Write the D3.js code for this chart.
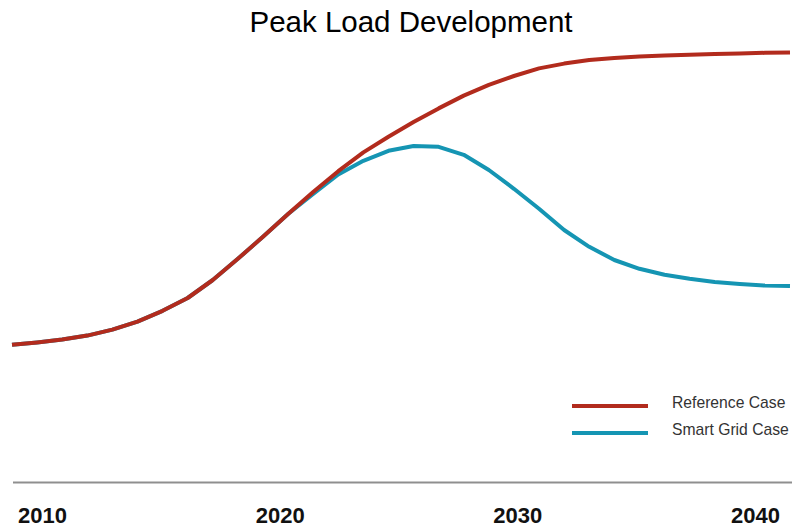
<!DOCTYPE html>
<html>
<head>
<meta charset="utf-8">
<script src="https://cdn.jsdelivr.net/npm/d3@7"></script>
<style>
    html, body { margin: 0; padding: 0; background: #fff; }
    text { font-family: "Liberation Sans", Arial, Helvetica, sans-serif; }
</style>
</head>
<body>
<div class="chart-container"></div>
<script>
// yearly points, values (index units)
var years = [2009, 2010, 2011, 2012, 2013, 2014, 2015, 2016, 2017, 2018, 2019,
    2020, 2021, 2022, 2023, 2024, 2025, 2026, 2027, 2028, 2029,
    2030, 2031, 2032, 2033, 2034, 2035, 2036, 2037, 2038, 2039, 2040];

var referenceCase = [34.3, 34.9, 35.6, 36.6, 38.1, 40.1, 42.8, 46.0, 50.5, 55.8, 61.3,
    67.0, 72.5, 77.7, 82.4, 86.3, 90.0, 93.4, 96.6, 99.3, 101.5,
    103.4, 104.6, 105.5, 106.0, 106.4, 106.6, 106.8, 107.0, 107.1, 107.3, 107.4];

var smartGridCase = [34.3, 34.9, 35.6, 36.6, 38.1, 40.1, 42.8, 46.0, 50.5, 55.8, 61.3,
    67.0, 72.0, 76.9, 80.3, 82.8, 84.0, 83.8, 81.8, 78.0, 73.3,
    68.3, 63.0, 58.8, 55.5, 53.3, 51.8, 50.8, 50.0, 49.5, 49.1, 49.0];

var axisYears = [2010, 2020, 2030, 2040];
var seriesNames = ["Reference Case", "Smart Grid Case"];
var seriesColors = ["#b22b1d", "#1595b3"];

function drawChart(){
    var width = 792;
    var height = 528;

    var svg = d3.select(".chart-container")
        .append("svg")
        .attr("width", width)
        .attr("height", height)
        .attr("viewBox", "0 0 " + width + " " + height);

    svg.append("rect")
        .attr("width", width)
        .attr("height", height)
        .attr("fill", "#fff");

    var x = d3.scaleLinear()
        .domain([2009, 2040])
        .range([12, 790]);

    // the year labels sit a little apart from the data points in the original slide
    var xLabels = d3.scaleLinear()
        .domain([2010, 2040])
        .range([42, 755]);

    var y = d3.scaleLinear()
        .domain([0, 110])
        .range([482, 42]);

    svg.append("text")
        .attr("x", 411)
        .attr("y", 32)
        .attr("text-anchor", "middle")
        .style("font-size", "29.5px")
        .style("fill", "#000")
        .text("Peak Load Development");

    // baseline
    svg.append("line")
        .attr("x1", 13)
        .attr("x2", width)
        .attr("y1", 482.5)
        .attr("y2", 482.5)
        .style("stroke", "#8f8f8f")
        .style("stroke-width", 2);

    var xAxis = d3.axisBottom(xLabels)
        .tickValues(axisYears)
        .tickFormat(d3.format("d"))
        .tickSize(0)
        .tickPadding(0);

    var axisG = svg.append("g")
        .attr("transform", "translate(0,483)")
        .call(xAxis);
    axisG.select(".domain").remove();
    axisG.selectAll("text")
        .attr("dy", null)
        .attr("y", 40)
        .style("font-family", "'Liberation Sans', Arial, sans-serif")
        .style("font-size", "22px")
        .style("font-weight", "bold")
        .style("fill", "#111");

    var line = d3.line()
        .x(function(d, i) { return x(years[i]); })
        .y(function(d) { return y(d); })
        .curve(d3.curveLinear);

    var allSeries = [referenceCase, smartGridCase];

    // draw smart grid first so the reference line stays on top where they overlap
    svg.selectAll(".series")
        .data([1, 0])
        .enter().append("path")
        .attr("class", "series")
        .attr("d", function(k) { return line(allSeries[k]); })
        .style("fill", "none")
        .style("stroke", function(k) { return seriesColors[k]; })
        .style("stroke-width", 4)
        .style("stroke-linejoin", "round")
        .style("stroke-linecap", "butt");

    var legend = svg.append("g")
        .attr("class", "legend")
        .selectAll("g")
        .data(seriesNames)
        .enter().append("g")
        .attr("transform", function(d, i) { return "translate(572," + (406 + i * 27) + ")"; });

    legend.append("line")
        .attr("x1", 0)
        .attr("x2", 76)
        .style("stroke", function(d, i) { return seriesColors[i]; })
        .style("stroke-width", 4);

    legend.append("text")
        .attr("x", 100)
        .attr("y", 2)
        .style("font-size", "15.7px")
        .style("fill", "#333")
        .text(function(d) { return d; });
}

drawChart();
</script>
</body>
</html>
